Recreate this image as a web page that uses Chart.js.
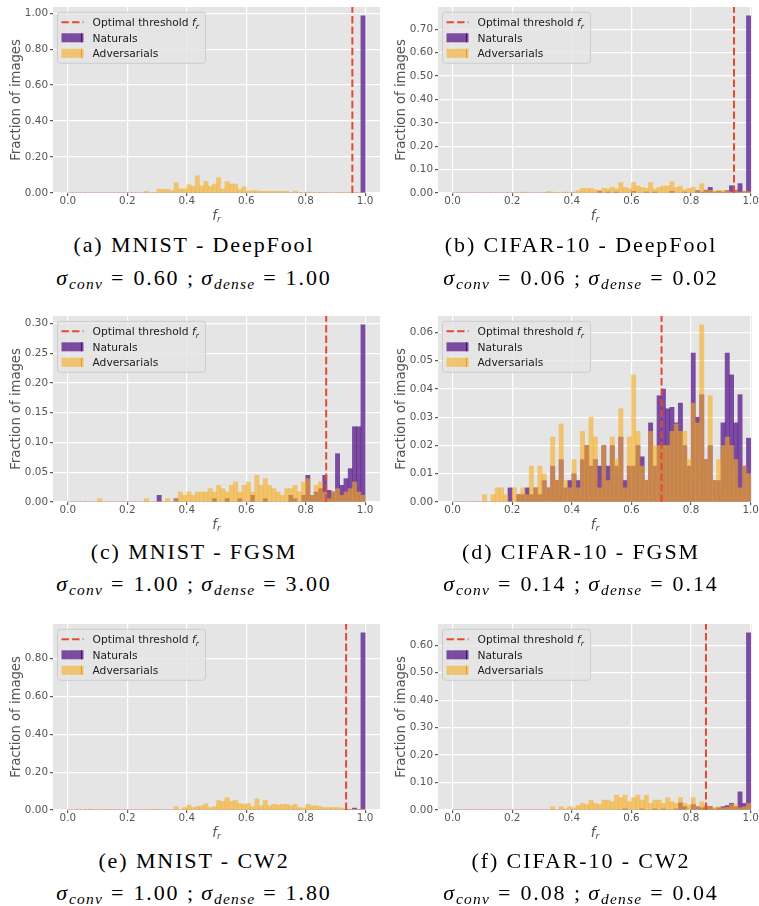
<!DOCTYPE html>
<html>
<head>
<meta charset="utf-8">
<script src="https://cdn.jsdelivr.net/npm/chart.js@4.4.1/dist/chart.umd.min.js"></script>
<style>
  html, body { margin: 0; padding: 0; background: #fff; }
  body { width: 759px; height: 906px; overflow: hidden; position: relative; }
  canvas { position: absolute; }
  .cap {
    position: absolute; width: 380px; text-align: center; white-space: nowrap;
    font-family: "Liberation Serif", serif; font-size: 22px; line-height: 22px;
    letter-spacing: 1.9px; color: #000;
  }
  .cap i { font-style: italic; }
  .cap sub { font-size: 15.5px; font-style: italic; vertical-align: -4px; line-height: 0; letter-spacing: 1.2px; }
  .cap .eq { margin: 0 8px; }
</style>
</head>
<body>
<script>
// --- Data: histogram bins (70 bins over [0, 1]) ---
const BINS = 70;
const X_TICKS = [0, 0.2, 0.4, 0.6, 0.8, 1.0];

const TITLES = ['(a) MNIST - DeepFool', '(b) CIFAR-10 - DeepFool', '(c) MNIST - FGSM',
                '(d) CIFAR-10 - FGSM', '(e) MNIST - CW2', '(f) CIFAR-10 - CW2'];
const SIGMA_CONV = ['0.60', '0.06', '1.00', '0.14', '1.00', '0.08'];
const SIGMA_DENSE = ['1.00', '0.02', '3.00', '0.14', '1.80', '0.04'];
const THRESHOLDS = [0.957, 0.944, 0.869, 0.701, 0.936, 0.850];

const Y_TICKS_A = [0, 0.2, 0.4, 0.6, 0.8, 1.0];
const Y_TICKS_B = [0, 0.1, 0.2, 0.3, 0.4, 0.5, 0.6, 0.7];
const Y_TICKS_C = [0, 0.05, 0.1, 0.15, 0.2, 0.25, 0.3];
const Y_TICKS_D = [0, 0.01, 0.02, 0.03, 0.04, 0.05, 0.06];
const Y_TICKS_E = [0, 0.2, 0.4, 0.6, 0.8];
const Y_TICKS_F = [0, 0.1, 0.2, 0.3, 0.4, 0.5, 0.6];

// (a) MNIST - DeepFool
const NAT_A = [
  0,0,0,0,0,0,0,0,0,0,
  0,0,0,0,0,0,0,0,0,0,
  0,0,0,0,0,0,0,0,0,0,
  0,0,0,0,0,0,0,0,0,0,
  0,0,0,0,0,0,0,0,0,0,
  0,0,0,0,0,0,0,0,0,0,
  0,0,0,0,0,0,0,0,0,0.985];
const ADV_A = [
  0,0,0,0,0,0,0,0,0,0,
  0,0,0,0,0,0,0,0,0.009,0,
  0,0.022,0.02,0.02,0.013,0.057,0.022,0.022,0.046,0.037,
  0.096,0.04,0.065,0.037,0.05,0.085,0.022,0.063,0.05,0.05,
  0.019,0.035,0.01,0.013,0.013,0.009,0.009,0.009,0.009,0.009,
  0.009,0.009,0,0.011,0,0,0.005,0,0,0.004,
  0,0,0,0.004,0,0,0,0.003,0,0];

// (b) CIFAR-10 - DeepFool
const NAT_B = [
  0,0,0,0,0,0,0,0,0,0,
  0,0,0,0,0,0,0,0,0,0,
  0,0,0,0,0,0,0,0,0,0,
  0,0,0,0,0.007,0,0.004,0,0.004,0,
  0,0,0.007,0,0,0.004,0,0.004,0,0,
  0,0.007,0,0,0.004,0,0,0.01,0.004,0.012,
  0.024,0.004,0.007,0.004,0.01,0.031,0.012,0.04,0.006,0.757];
const ADV_B = [
  0,0,0,0,0,0,0,0,0,0,
  0,0,0,0,0,0,0.004,0,0,0,
  0,0,0.006,0.004,0,0,0.004,0,0.004,0.01,
  0.02,0.018,0.02,0.014,0.012,0.02,0.017,0.024,0.018,0.045,
  0.024,0.018,0.045,0.03,0.024,0.02,0.045,0.017,0.024,0.03,
  0.03,0.048,0.024,0.03,0.014,0.02,0.024,0.01,0.04,0.012,
  0.012,0.01,0.012,0.01,0.01,0.004,0.01,0.004,0.008,0.006];

// (c) MNIST - FGSM
const NAT_C = [
  0,0,0,0,0,0,0,0,0,0,
  0,0,0,0,0,0,0,0,0,0,
  0,0.0112,0,0,0,0.0056,0,0,0,0,
  0,0,0,0,0.0056,0,0,0.0056,0,0,
  0.0056,0,0,0.0112,0,0,0.0056,0,0,0,
  0,0,0.0112,0.0056,0,0.0112,0.0448,0.0112,0.0168,0.0224,
  0.0448,0.0196,0.0168,0.0812,0.028,0.0392,0.056,0.1264,0.1264,0.2975];
const ADV_C = [
  0,0,0,0,0,0,0,0.0056,0,0,
  0,0,0,0,0,0,0,0,0.0056,0,
  0,0,0,0.0056,0,0.0056,0.0168,0.0112,0.0168,0.0112,
  0.0168,0.0168,0.0168,0.0224,0.0168,0.028,0.0224,0.0168,0.028,0.0336,
  0.0168,0.028,0.0336,0.0168,0.0448,0.028,0.0392,0.028,0.0224,0.0168,
  0.0112,0.0224,0.0224,0.028,0.0168,0.0336,0.0392,0.0112,0.028,0.0336,
  0.0168,0.0056,0.0168,0.0224,0.0112,0.0168,0.0224,0.0336,0.0168,0.0112];

// (d) CIFAR-10 - FGSM
const NAT_D = [
  0,0,0,0,0,0,0,0,0,0,
  0,0,0,0.005,0,0.0026,0.0026,0.005,0.0026,0.005,
  0.0026,0.0076,0.005,0.0127,0.0076,0.015,0.005,0.0076,0.01,0.0076,
  0.015,0.02,0.0127,0.015,0.0127,0.02,0.0127,0.02,0.0127,0.023,
  0.0076,0.0127,0.0127,0.02,0.016,0.0076,0.028,0.0127,0.0376,0.04,
  0.033,0.0335,0.028,0.035,0.02,0.0127,0.0527,0.03,0.038,0.015,
  0.02,0.0076,0.0076,0.028,0.0527,0.045,0.028,0.038,0.0127,0.0226];
const ADV_D = [
  0,0,0,0,0,0,0,0.0026,0,0.0026,
  0.005,0.005,0.0026,0,0.005,0.0026,0.005,0.0026,0.0127,0.005,
  0.0127,0.01,0.005,0.023,0.0076,0.0276,0.0076,0.005,0.015,0.005,
  0.025,0.02,0.03,0.023,0.005,0.02,0.0076,0.023,0.015,0.033,
  0.005,0.023,0.045,0.025,0.0127,0.0076,0.025,0.02,0.02,0.02,
  0.02,0.025,0.0276,0.025,0.025,0.015,0.035,0.028,0.0627,0.015,
  0.0376,0.0076,0.015,0.02,0.023,0.02,0.015,0.005,0.0127,0.01];

// (e) MNIST - CW2
const NAT_E = [
  0,0,0,0,0,0,0,0,0,0,
  0,0,0,0,0,0,0,0,0,0,
  0,0,0,0,0,0,0,0,0,0,
  0,0,0,0,0,0,0,0,0,0,
  0,0,0,0,0,0,0,0,0,0,
  0,0,0,0,0,0,0,0,0,0,
  0,0,0,0,0,0.003,0.003,0.01,0.003,0.936];
const ADV_E = [
  0,0,0.004,0,0.004,0.004,0,0,0,0.004,
  0,0,0,0,0,0,0,0,0,0,
  0.004,0.004,0,0,0,0.018,0,0.013,0.026,0.013,
  0.018,0.022,0.033,0.013,0.018,0.05,0.045,0.065,0.045,0.05,
  0.035,0.03,0.035,0.018,0.058,0.022,0.05,0.022,0.03,0.026,
  0.03,0.03,0.022,0.03,0.013,0.01,0.03,0.022,0.022,0.018,
  0.013,0.013,0.013,0.013,0.01,0.004,0.004,0.004,0.004,0.004];

// (f) CIFAR-10 - CW2
const NAT_F = [
  0,0,0,0,0,0,0,0,0,0,
  0,0,0,0,0,0,0,0,0,0,
  0,0,0,0,0,0,0,0,0,0,
  0,0,0,0,0,0,0,0,0,0,
  0.004,0,0,0,0.004,0,0,0.004,0,0.004,
  0,0,0.004,0.026,0.012,0,0.02,0.012,0.008,0.012,
  0.012,0.004,0.008,0.012,0.016,0.024,0.012,0.066,0.024,0.645];
const ADV_F = [
  0,0,0,0,0,0,0,0,0,0,
  0,0,0,0,0,0,0,0,0,0,
  0,0,0,0.012,0,0.012,0.004,0.012,0.008,0.016,
  0.024,0.02,0.036,0.024,0.02,0.036,0.036,0.03,0.054,0.045,
  0.054,0.03,0.045,0.054,0.036,0.054,0.024,0.036,0.036,0.024,
  0.045,0.03,0.024,0.045,0.024,0.018,0.045,0.012,0.03,0.02,
  0.01,0.01,0.012,0.008,0.01,0.02,0.02,0.008,0.012,0.024];

const PANELS = [
  { nat: NAT_A, adv: ADV_A, yTicks: Y_TICKS_A },
  { nat: NAT_B, adv: ADV_B, yTicks: Y_TICKS_B },
  { nat: NAT_C, adv: ADV_C, yTicks: Y_TICKS_C },
  { nat: NAT_D, adv: ADV_D, yTicks: Y_TICKS_D },
  { nat: NAT_E, adv: ADV_E, yTicks: Y_TICKS_E },
  { nat: NAT_F, adv: ADV_F, yTicks: Y_TICKS_F }
];

// --- Layout ---
const ROW_TOPS = [7, 316, 624];         // top of plot area per row
const PLOT_H = 186;
const CAP_BASE1 = [252, 559.5, 868];   // caption baselines
const CAP_BASE2 = [285, 591, 900];
const X_RANGE_LEFT = [-0.05, 1.05];
const X_RANGE_RIGHT = [-0.049, 1.0044];

const RED = '#E24A33';
const PURPLE = 'rgba(92, 32, 142, 0.78)';
const ORANGE = 'rgba(247, 172, 31, 0.6)';
const PURPLE_EDGE = 'rgba(60, 10, 100, 0.9)';
const ORANGE_EDGE = 'rgba(235, 150, 10, 0.9)';
const TICK_SIZE = 10.4;

Chart.defaults.font.family = '"DejaVu Sans", sans-serif';
Chart.defaults.color = '#555555';

const BIN_CENTERS = Array.from({ length: BINS }, (_, i) => (i + 0.5) / BINS);
const toPoints = vals => vals.map((v, i) => ({ x: BIN_CENTERS[i], y: v }));

// grey plot background (ggplot style)
const plotBg = {
  id: 'plotBg',
  beforeDraw(chart) {
    const { ctx, chartArea: a } = chart;
    ctx.save();
    ctx.fillStyle = '#E5E5E5';
    ctx.fillRect(a.left, a.top, a.right - a.left, a.bottom - a.top);
    ctx.restore();
  }
};

// italic f with subscript r
function drawFr(ctx, x, y, size, color, centered) {
  ctx.save();
  ctx.fillStyle = color;
  ctx.textBaseline = 'alphabetic';
  ctx.textAlign = 'left';
  const main = 'italic ' + size + 'px "DejaVu Sans"';
  const sub = 'italic ' + (size * 0.7).toFixed(1) + 'px "DejaVu Sans"';
  ctx.font = main;
  const wf = ctx.measureText('f').width;
  ctx.font = sub;
  const wr = ctx.measureText('r').width;
  const x0 = centered ? x - (wf + wr) / 2 : x;
  ctx.font = main;
  ctx.fillText('f', x0, y);
  ctx.font = sub;
  ctx.fillText('r', x0 + wf, y + size * 0.22);
  ctx.restore();
}

const xTitle = {
  id: 'xTitle',
  afterDraw(chart) {
    const a = chart.chartArea;
    drawFr(chart.ctx, (a.left + a.right) / 2, a.bottom + 26.5, 13.4, '#555555', true);
  }
};

const innerLegend = {
  id: 'innerLegend',
  afterDraw(chart) {
    const { ctx, chartArea: a } = chart;
    const bx = a.left + 4.5, by = a.top + 5.3, bw = 148, bh = 51, r = 3;
    ctx.save();
    ctx.beginPath();
    ctx.moveTo(bx + r, by);
    ctx.lineTo(bx + bw - r, by);
    ctx.arcTo(bx + bw, by, bx + bw, by + r, r);
    ctx.lineTo(bx + bw, by + bh - r);
    ctx.arcTo(bx + bw, by + bh, bx + bw - r, by + bh, r);
    ctx.lineTo(bx + r, by + bh);
    ctx.arcTo(bx, by + bh, bx, by + bh - r, r);
    ctx.lineTo(bx, by + r);
    ctx.arcTo(bx, by, bx + r, by, r);
    ctx.closePath();
    ctx.fillStyle = 'rgba(229,229,229,0.8)';
    ctx.fill();
    ctx.strokeStyle = '#CCCCCC';
    ctx.lineWidth = 1;
    ctx.stroke();

    const rows = [by + 10, by + 25.5, by + 41];
    // dashed threshold handle
    ctx.beginPath();
    ctx.setLineDash([7.4, 3.2]);
    ctx.strokeStyle = RED;
    ctx.lineWidth = 2;
    ctx.moveTo(bx + 4, rows[0]);
    ctx.lineTo(bx + 26, rows[0]);
    ctx.stroke();
    ctx.setLineDash([]);
    // patches
    ctx.fillStyle = PURPLE;
    ctx.fillRect(bx + 4, rows[1] - 4.5, 22, 9);
    ctx.fillStyle = PURPLE_EDGE;
    ctx.fillRect(bx + 23.5, rows[1] - 4.5, 1, 9);
    ctx.fillStyle = ORANGE;
    ctx.fillRect(bx + 4, rows[2] - 4.5, 22, 9);
    ctx.fillStyle = ORANGE_EDGE;
    ctx.fillRect(bx + 23.5, rows[2] - 4.5, 1, 9);

    ctx.fillStyle = '#1a1a1a';
    ctx.font = '10.7px "DejaVu Sans"';
    ctx.textBaseline = 'alphabetic';
    ctx.textAlign = 'left';
    const tx = bx + 35;
    const t1 = 'Optimal threshold ';
    ctx.fillText(t1, tx, rows[0] + 3.9);
    const w1 = ctx.measureText(t1).width;
    drawFr(ctx, tx + w1, rows[0] + 3.9, 10.7, '#1a1a1a', false);
    ctx.fillText('Naturals', tx, rows[1] + 3.9);
    ctx.fillText('Adversarials', tx, rows[2] + 3.9);
    ctx.restore();
  }
};

function makePanel(p) {
  const col = p % 2, row = Math.floor(p / 2);
  const cfg = PANELS[p];
  const canvas = document.createElement('canvas');
  const cw = col === 0 ? 390 : 395;
  const ch = 10 + PLOT_H + 34;
  canvas.width = cw;
  canvas.height = ch;
  canvas.style.left = (col === 0 ? 0 : 385) + 'px';
  canvas.style.top = (ROW_TOPS[row] - 10) + 'px';
  document.body.appendChild(canvas);

  const ymax = 1.05 * Math.max(...cfg.nat, ...cfg.adv);
  const xr = col === 0 ? X_RANGE_LEFT : X_RANGE_RIGHT;
  const thr = THRESHOLDS[p];

  new Chart(canvas, {
    type: 'bar',
    data: {
      datasets: [
        {
          type: 'line',
          data: [{ x: thr, y: 0 }, { x: thr, y: ymax }],
          borderColor: RED,
          borderWidth: 2,
          borderDash: [7.4, 3.2],
          pointRadius: 0,
          fill: false
        },
        {
          label: 'Adversarials',
          data: toPoints(cfg.adv),
          backgroundColor: ORANGE,
          borderWidth: 0,
          grouped: false,
          barPercentage: 1,
          categoryPercentage: 1
        },
        {
          label: 'Naturals',
          data: toPoints(cfg.nat),
          backgroundColor: PURPLE,
          borderWidth: 0,
          grouped: false,
          barPercentage: 1,
          categoryPercentage: 1
        }
      ]
    },
    options: {
      responsive: false,
      animation: false,
      devicePixelRatio: 1,
      layout: { padding: { left: 0, top: 10, right: col === 0 ? 10 : 28, bottom: 0 } },
      plugins: { legend: { display: false }, tooltip: { enabled: false } },
      scales: {
        x: {
          type: 'linear',
          min: xr[0],
          max: xr[1],
          offset: false,
          afterBuildTicks: axis => { axis.ticks = X_TICKS.map(v => ({ value: v })); },
          afterFit: axis => { axis.height = 34; },
          ticks: {
            callback: v => v.toFixed(1),
            font: { size: TICK_SIZE, lineHeight: 1 },
            color: '#555555',
            padding: 0,
            maxRotation: 0,
            autoSkip: false
          },
          grid: { offset: false, color: '#FFFFFF', lineWidth: 1.2, tickColor: '#555555', tickLength: 3 },
          border: { display: false }
        },
        y: {
          min: 0,
          max: ymax,
          afterBuildTicks: axis => { axis.ticks = cfg.yTicks.map(v => ({ value: v })); },
          afterFit: axis => { axis.width = 53; },
          ticks: {
            callback: v => v.toFixed(2),
            font: { size: TICK_SIZE },
            color: '#555555',
            padding: 2
          },
          grid: { color: '#FFFFFF', lineWidth: 1.2, tickColor: '#555555', tickLength: 3 },
          border: { display: false },
          title: {
            display: true,
            text: 'Fraction of images',
            font: { size: 13.2 },
            color: '#555555',
            padding: { top: 9, bottom: 0 }
          }
        }
      }
    },
    plugins: [plotBg, xTitle, innerLegend]
  });

  // captions (real text)
  const left = col === 0 ? 4 : 391;
  const c1 = document.createElement('div');
  c1.className = 'cap';
  c1.style.left = left + 'px';
  c1.style.top = (CAP_BASE1[row] - 18.4) + 'px';
  c1.textContent = TITLES[p];
  document.body.appendChild(c1);

  const c2 = document.createElement('div');
  c2.className = 'cap';
  c2.style.left = left + 'px';
  c2.style.top = (CAP_BASE2[row] - 18.4) + 'px';
  c2.innerHTML = '<i>σ</i><sub>conv</sub><span class="eq">=</span>' + SIGMA_CONV[p] +
    ' ;\u2009<i>σ</i><sub>dense</sub><span class="eq">=</span>' + SIGMA_DENSE[p];
  document.body.appendChild(c2);
}

for (let p = 0; p < PANELS.length; p++) makePanel(p);
</script>
</body>
</html>
